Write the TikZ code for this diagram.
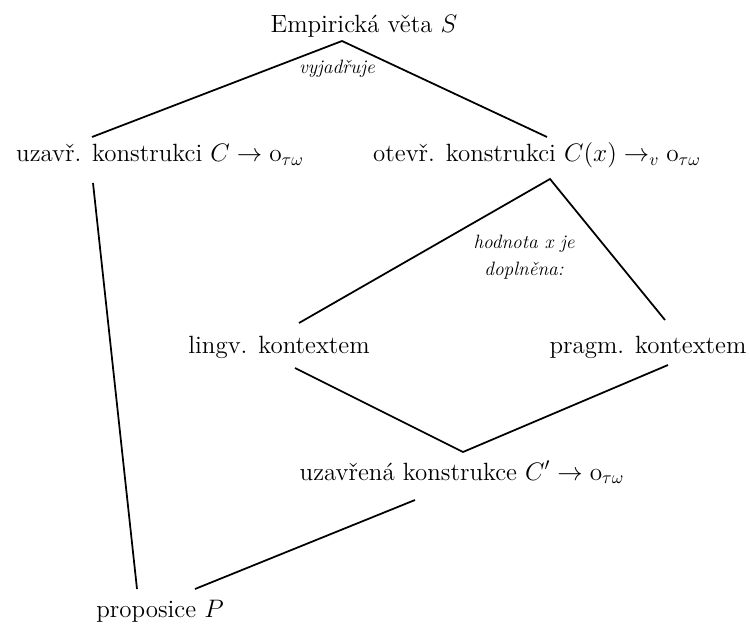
\documentclass[tikz,border=0pt]{standalone}
\usepackage{amsmath}
\usetikzlibrary{calc}

\begin{document}
\begin{tikzpicture}[
  x=0.02cm, y=-0.02cm,
  txt/.style={inner sep=0pt, anchor=base, font=\fontsize{14.2pt}{17pt}\selectfont},
  lbl/.style={inner sep=0pt, align=center, font=\fontsize{11pt}{15.4pt}\selectfont\itshape},
  ln/.style={line width=1pt}
]
\useasboundingbox (0,0) rectangle (750,628);

\node[txt] (veta) at (364,33) {Empirická věta $S$};
\node[lbl, anchor=base] (vyj) at (337,74) {vyjadřuje};

\node[txt] (uzv) at (160,162) {uzavř. konstrukci $C \rightarrow \mathrm{o}_{\tau\omega}$};
\node[txt] (otv) at (537,162) {otevř. konstrukci $C(x) \rightarrow_{v} \mathrm{o}_{\tau\omega}$};

\node[lbl] (hodn) at (524,257) {hodnota x je\\doplněna:};

\node[txt] (lin) at (279,353) {lingv. kontextem};
\node[txt] (prg) at (648,353) {pragm. kontextem};

\node[txt] (uzf) at (462,480) {uzavřená konstrukce $C' \rightarrow \mathrm{o}_{\tau\omega}$};
\node[txt] (prop) at (160,617) {proposice $P$};

% tree branches
\draw[ln] ($(uzv.base)+(-68,-25)$) -- ($(veta.base)+(-22,8)$) -- ($(otv.base)+(10,-25)$);
\draw[ln] ($(uzv.base)+(-67,21)$) -- ($(prop.base)+(-23,-28)$);
\draw[ln] ($(lin.base)+(20,-30)$) -- ($(otv.base)+(13,17)$) -- ($(prg.base)+(17,-33)$);
\draw[ln] ($(lin.base)+(16,15)$) -- ($(uzf.base)+(1,-28)$) -- ($(prg.base)+(20,12)$);
\draw[ln] ($(uzf.base)+(-47,20)$) -- ($(prop.base)+(35,-28)$);

\end{tikzpicture}
\end{document}
